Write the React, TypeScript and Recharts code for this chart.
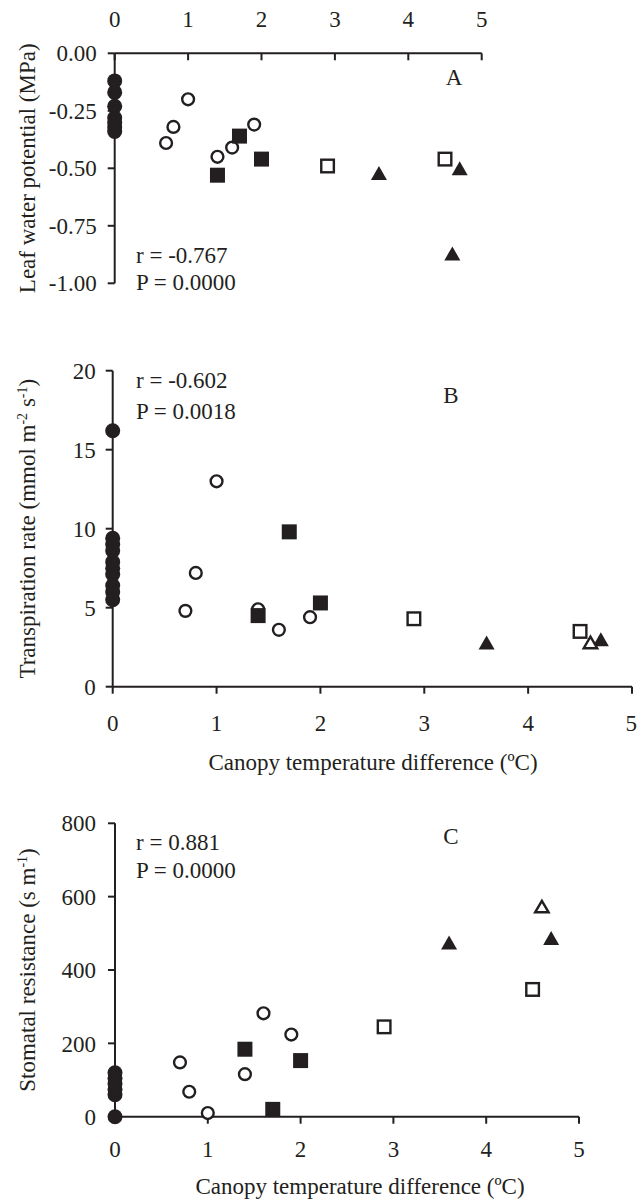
import React from 'react';
import { ScatterChart, Scatter, XAxis, YAxis } from 'recharts';

const FONT = '"Liberation Serif", "Times New Roman", serif';
const INK = '#231f20';
const FS = 23;

// shared x ticks (canopy temperature difference, ºC)
const xTicks = [0, 1, 2, 3, 4, 5];

// A - leaf water potential (MPa)
const aTicks = [0, -0.25, -0.5, -0.75, -1];
const aFilledCircle = [[0, -0.12], [0, -0.17], [0, -0.23], [0, -0.28], [0, -0.3], [0, -0.32], [0, -0.34]];
const aOpenCircle = [[0.7, -0.39], [0.8, -0.32], [1.0, -0.2], [1.4, -0.45], [1.6, -0.41], [1.9, -0.31]];
const aFilledSquare = [[1.4, -0.53], [1.7, -0.36], [2.0, -0.46]];
const aOpenSquare = [[2.9, -0.49], [4.5, -0.46]];
const aFilledTriangle = [[3.6, -0.52], [4.7, -0.5], [4.6, -0.87]];

// B - transpiration rate
const bTicks = [0, 5, 10, 15, 20];
const bFilledCircle = [[0, 16.2], [0, 9.4], [0, 9.0], [0, 8.6], [0, 7.9], [0, 7.5], [0, 7.1], [0, 6.4], [0, 6.0], [0, 5.5]];
const bOpenCircle = [[0.7, 4.8], [0.8, 7.2], [1.0, 13.0], [1.4, 4.9], [1.6, 3.6], [1.9, 4.4]];
const bFilledSquare = [[1.4, 4.5], [1.7, 9.8], [2.0, 5.3]];
const bOpenSquare = [[2.9, 4.3], [4.5, 3.5]];
const bFilledTriangle = [[3.6, 2.8], [4.7, 3.0]];
const bOpenTriangle = [[4.6, 2.8]];

// C - stomatal resistance
const cTicks = [0, 200, 400, 600, 800];
const cFilledCircle = [[0, 0], [0, 60], [0, 75], [0, 90], [0, 105], [0, 120]];
const cOpenCircle = [[0.7, 148], [0.8, 68], [1.0, 10], [1.4, 116], [1.6, 282], [1.9, 224]];
const cFilledSquare = [[1.4, 184], [1.7, 20], [2.0, 153]];
const cOpenSquare = [[2.9, 245], [4.5, 347]];
const cFilledTriangle = [[3.6, 475], [4.7, 487]];
const cOpenTriangle = [[4.6, 573]];

const pts = (arr: number[][]) => arr.map(([x, y]) => ({ x, y }));

// markers
const filledCircle = (p: any) => <circle cx={p.cx} cy={p.cy} r={7.5} fill={INK} />;
const openCircle = (p: any) => (
  <circle cx={p.cx} cy={p.cy} r={5.9} fill="#fff" stroke={INK} strokeWidth={2.4} />
);
const filledSquare = (p: any) => <rect x={p.cx - 7.5} y={p.cy - 7.5} width={15} height={15} fill={INK} />;
const openSquare = (p: any) => (
  <rect x={p.cx - 6.3} y={p.cy - 6.3} width={12.6} height={12.6} fill="#fff" stroke={INK} strokeWidth={2.4} />
);
const tri = (cx: number, cy: number, w: number, h: number) =>
  `M${cx},${cy - h / 2} L${cx + w / 2},${cy + h / 2} L${cx - w / 2},${cy + h / 2} Z`;
const filledTriangle = (p: any) => <path d={tri(p.cx, p.cy, 16, 14)} fill={INK} />;
const openTriangle = (p: any) => (
  <path d={tri(p.cx, p.cy, 13.5, 11.5)} fill="#fff" stroke={INK} strokeWidth={2.4} />
);

const marks = (series: [number[][], any][]) =>
  series.map(([data, shape], i) => (
    <Scatter key={i} data={pts(data)} shape={shape} isAnimationActive={false} />
  ));

const tickStyle = { fontFamily: FONT, fontSize: FS, fill: INK };
const lineStyle = { stroke: INK, strokeWidth: 2 };
const txt = { fontFamily: FONT, fontSize: FS, fill: INK };

const yTitle = (cx: number, cy: number, main: string, tail?: React.ReactNode) => (
  <text transform={`rotate(-90, ${cx}, ${cy})`} x={cx} y={cy} textAnchor="middle" {...txt}>
    {main}
    {tail}
  </text>
);

const xTitle = (cx: number, y: number) => (
  <text x={cx} y={y} textAnchor="middle" {...txt}>
    Canopy temperature difference (ºC)
  </text>
);

// top axis tick for panel A: tick points into the plot
const A_TOP = 53.3;
const topTick = (p: any) => (
  <g>
    <line x1={p.x} x2={p.x} y1={A_TOP} y2={A_TOP + 7} stroke={INK} strokeWidth={2} />
    <text x={p.x} y={27.3} textAnchor="middle" {...txt}>
      {p.payload.value}
    </text>
  </g>
);

const sup = (s: string) => (
  <tspan dy={-8} fontSize={14}>
    {s}
  </tspan>
);

export default function App() {
  return (
    <div style={{ position: 'absolute', left: 0, top: 0, width: 637, height: 1200, background: '#fff' }}>
      {/* A */}
      <div style={{ position: 'absolute', left: 0, top: 0 }}>
        <ScatterChart width={637} height={300} margin={{ top: 0, right: 155.3, bottom: 16.7, left: 0 }}>
          <XAxis
            type="number"
            dataKey="x"
            orientation="top"
            height={53.3}
            domain={[0, 5]}
            ticks={xTicks}
            axisLine={lineStyle}
            tickLine={false}
            tick={topTick}
          />
          <YAxis
            type="number"
            dataKey="y"
            width={114.7}
            domain={[-1, 0]}
            ticks={aTicks}
            tickFormatter={(v: number) => v.toFixed(2)}
            tickSize={7}
            tickMargin={11}
            axisLine={lineStyle}
            tickLine={lineStyle}
            tick={tickStyle}
            label={() => yTitle(35, 168.3, 'Leaf water potential (MPa)')}
          />
          {marks([
            [aFilledCircle, filledCircle],
            [aOpenCircle, openCircle],
            [aFilledSquare, filledSquare],
            [aOpenSquare, openSquare],
            [aFilledTriangle, filledTriangle],
          ])}
          <text x={136} y={263} {...txt}>r = -0.767</text>
          <text x={136} y={290} {...txt}>P = 0.0000</text>
          <text x={454} y={85} textAnchor="middle" {...txt}>A</text>
        </ScatterChart>
      </div>

      {/* B */}
      <div style={{ position: 'absolute', left: 0, top: 300 }}>
        <ScatterChart width={637} height={480} margin={{ top: 70.7, right: 5, bottom: 0, left: 0 }}>
          <XAxis
            type="number"
            dataKey="x"
            height={93.3}
            domain={[0, 5]}
            ticks={xTicks}
            tickSize={7}
            tickMargin={20.7}
            axisLine={lineStyle}
            tickLine={lineStyle}
            tick={tickStyle}
            label={() => xTitle(373, 470)}
          />
          <YAxis
            type="number"
            dataKey="y"
            width={112.7}
            domain={[0, 20]}
            ticks={bTicks}
            tickSize={7}
            tickMargin={10}
            axisLine={lineStyle}
            tickLine={lineStyle}
            tick={tickStyle}
            label={() =>
              yTitle(
                35,
                228.7,
                'Transpiration rate (mmol m',
                <>
                  {sup('-2')}
                  <tspan dy={8}> s</tspan>
                  {sup('-1')}
                  <tspan dy={8}>)</tspan>
                </>
              )
            }
          />
          {marks([
            [bFilledCircle, filledCircle],
            [bOpenCircle, openCircle],
            [bFilledSquare, filledSquare],
            [bOpenSquare, openSquare],
            [bFilledTriangle, filledTriangle],
            [bOpenTriangle, openTriangle],
          ])}
          <text x={136} y={88} {...txt}>r = -0.602</text>
          <text x={136} y={119} {...txt}>P = 0.0018</text>
          <text x={451} y={103} textAnchor="middle" {...txt}>B</text>
        </ScatterChart>
      </div>

      {/* C */}
      <div style={{ position: 'absolute', left: 0, top: 780 }}>
        <ScatterChart width={637} height={420} margin={{ top: 43.3, right: 58, bottom: 0, left: 0 }}>
          <XAxis
            type="number"
            dataKey="x"
            height={83.3}
            domain={[0, 5]}
            ticks={xTicks}
            tickSize={7}
            tickMargin={16.7}
            axisLine={lineStyle}
            tickLine={lineStyle}
            tick={tickStyle}
            label={() => xTitle(360, 414)}
          />
          <YAxis
            type="number"
            dataKey="y"
            width={115}
            domain={[0, 800]}
            ticks={cTicks}
            tickSize={7}
            tickMargin={12}
            axisLine={lineStyle}
            tickLine={lineStyle}
            tick={tickStyle}
            label={() =>
              yTitle(
                35,
                190,
                'Stomatal resistance (s m',
                <>
                  {sup('-1')}
                  <tspan dy={8}>)</tspan>
                </>
              )
            }
          />
          {marks([
            [cFilledCircle, filledCircle],
            [cOpenCircle, openCircle],
            [cFilledSquare, filledSquare],
            [cOpenSquare, openSquare],
            [cFilledTriangle, filledTriangle],
            [cOpenTriangle, openTriangle],
          ])}
          <text x={136} y={70} {...txt}>r = 0.881</text>
          <text x={136} y={98} {...txt}>P = 0.0000</text>
          <text x={451} y={64} textAnchor="middle" {...txt}>C</text>
        </ScatterChart>
      </div>
    </div>
  );
}
